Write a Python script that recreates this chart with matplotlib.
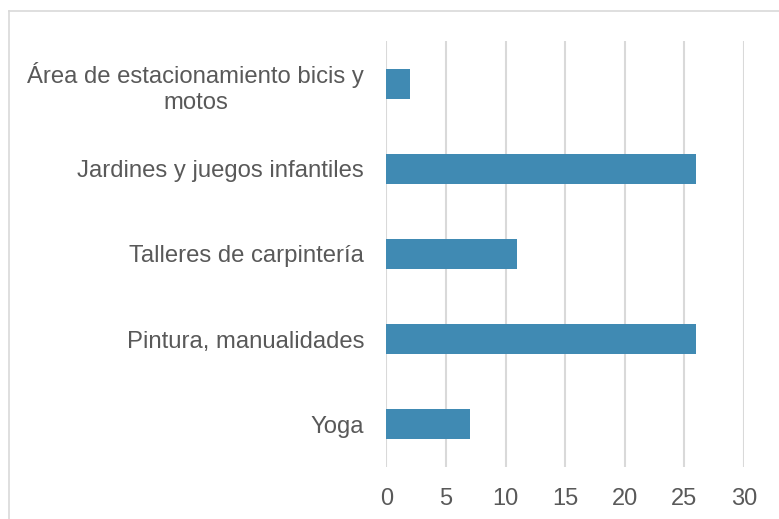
import matplotlib.pyplot as plt
from matplotlib.lines import Line2D

# categories listed bottom to top
categorias = ['Yoga', 'Pintura, manualidades', 'Talleres de carpintería',
              'Jardines y juegos infantiles',
              'Área de estacionamiento bicis y\nmotos']
valores = [7, 26, 11, 26, 2]
ticks_x = [0, 5, 10, 15, 20, 25, 30]

plt.rcParams['font.family'] = ['Liberation Sans', 'DejaVu Sans']

fig = plt.figure(figsize=(7.79, 5.19), dpi=100)
ax = fig.add_axes([0.4959, 0.1002, 0.4592, 0.8208])

ax.barh(range(len(categorias)), valores, height=0.35, color='#408AB3',
        zorder=3)

ax.set_xlim(0, 30)
ax.set_ylim(-0.5, len(categorias) - 0.5)
ax.set_xticks(ticks_x)
ax.set_yticks(range(len(categorias)))
ax.set_yticklabels(categorias, multialignment='center', linespacing=1.2)

ax.grid(axis='x', color='#D9D9D9', linewidth=1.5, zorder=0)
ax.tick_params(axis='x', length=0, labelsize=17, colors='#595959', pad=15)
ax.tick_params(axis='y', length=0, labelsize=17.2, colors='#595959', pad=16)
for s in ax.spines.values():
    s.set_visible(False)

# chart frame (only top and left edges fall inside the image)
x0, y0 = 9 / 779, 1 - 11 / 519
fig.add_artist(Line2D([x0, 1.01], [y0, y0], transform=fig.transFigure,
                      color='#D9D9D9', linewidth=1.2))
fig.add_artist(Line2D([x0, x0], [y0, -0.01], transform=fig.transFigure,
                      color='#D9D9D9', linewidth=1.2))

fig.savefig('out.png', dpi=100)
